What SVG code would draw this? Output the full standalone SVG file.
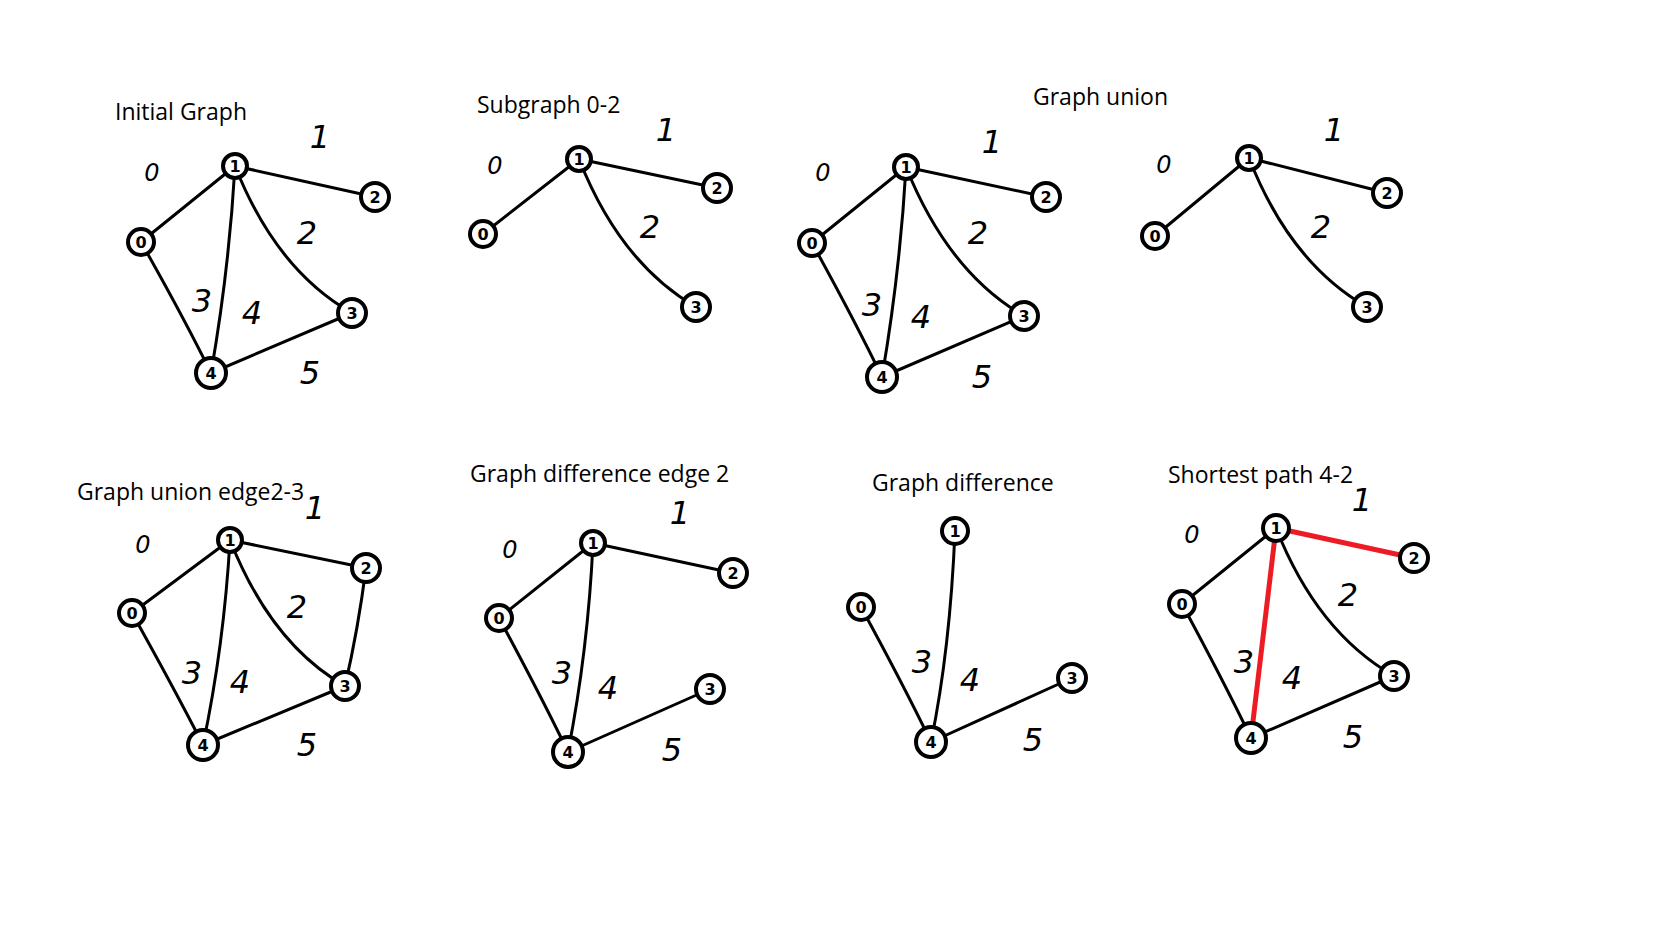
<svg xmlns="http://www.w3.org/2000/svg" width="1666" height="936" viewBox="0 0 1666 936">
<style>
.title{font-family:"Open Sans","Noto Sans",sans-serif;font-size:23px;fill:#000}
.e{fill:none;stroke:#000;stroke-width:3;stroke-linecap:round}
.red{fill:none;stroke:#ED1C24;stroke-width:5;stroke-linecap:round}
.n circle{fill:#fff;stroke:#000;stroke-width:4}
.n text{font-family:"DejaVu Sans",sans-serif;font-size:16px;font-weight:bold;text-anchor:middle;fill:#000}
.lbl{font-family:"DejaVu Sans",sans-serif;font-style:italic;font-size:32px;text-anchor:middle;fill:#000}
.lbl0{font-size:24px}
</style>
<rect width="1666" height="936" fill="#fff"/>

<g id="titles">
<text class="title" x="115" y="120">Initial Graph</text>
<text class="title" x="477" y="113">Subgraph 0-2</text>
<text class="title" x="1033" y="105">Graph union</text>
<text class="title" x="77" y="500">Graph union edge2-3</text>
<text class="title" x="470" y="482">Graph difference edge 2</text>
<text class="title" x="872" y="491">Graph difference</text>
<text class="title" x="1168" y="483">Shortest path 4-2</text>
</g>

<g id="connectors">
<!-- Initial graph -->
<path class="e" d="M235 166 L375 197"/>
<path class="e" d="M235 166 L141 242"/>
<path class="e" d="M235 166 Q229 270 211 373"/>
<path class="e" d="M235 166 Q276 270 352 313"/>
<path class="e" d="M141 242 Q184 318 211 373"/>
<path class="e" d="M211 373 L352 313"/>
<!-- Subgraph 0-2 -->
<path class="e" d="M579 159 L717 188"/>
<path class="e" d="M579 159 L483 234"/>
<path class="e" d="M579 159 Q620 263 696 307"/>
<!-- Graph union left -->
<path class="e" d="M906 167 L1046 197"/>
<path class="e" d="M906 167 L812 243"/>
<path class="e" d="M906 167 Q900 272 882 377"/>
<path class="e" d="M906 167 Q948 272 1024 316"/>
<path class="e" d="M812 243 Q855 321 882 377"/>
<path class="e" d="M882 377 L1024 316"/>
<!-- Graph union right -->
<path class="e" d="M1249 158 L1387 193"/>
<path class="e" d="M1249 158 L1155 236"/>
<path class="e" d="M1249 158 Q1290 263 1367 307"/>
<!-- Graph union edge2-3 -->
<path class="e" d="M230 540 L366 568"/>
<path class="e" d="M230 540 L132 613"/>
<path class="e" d="M230 540 Q224 645 203 745"/>
<path class="e" d="M230 540 Q271 644 345 686"/>
<path class="e" d="M132 613 Q175 690 203 745"/>
<path class="e" d="M203 745 L345 686"/>
<path class="e" d="M366 568 Q358 630 345 686"/>
<!-- Graph difference edge 2 -->
<path class="e" d="M593 543 L733 573"/>
<path class="e" d="M593 543 L499 618"/>
<path class="e" d="M593 543 Q588 650 568 752"/>
<path class="e" d="M499 618 Q541 696 568 752"/>
<path class="e" d="M568 752 L710 689"/>
<!-- Graph difference -->
<path class="e" d="M955 531 Q950 650 931 742"/>
<path class="e" d="M861 607 Q904 686 931 742"/>
<path class="e" d="M931 742 L1072 678"/>
<!-- Shortest path -->
<path class="e" d="M1276 528 L1182 604"/>
<path class="e" d="M1276 528 Q1317 632 1394 676"/>
<path class="e" d="M1182 604 Q1224 682 1251 738"/>
<path class="e" d="M1251 738 L1394 676"/>
<path class="red" d="M1276 528 L1414 558"/>
<path class="red" d="M1276 528 L1251 738"/>
</g>

<g id="edge-labels">
<text class="lbl lbl0" x="152" y="181">0</text><text class="lbl" x="320" y="148">1</text><text class="lbl" x="307" y="244">2</text><text class="lbl" x="202" y="312">3</text><text class="lbl" x="252" y="324">4</text><text class="lbl" x="310" y="384">5</text>
<text class="lbl lbl0" x="495" y="174">0</text><text class="lbl" x="666" y="141">1</text><text class="lbl" x="650" y="238">2</text>
<text class="lbl lbl0" x="823" y="181">0</text><text class="lbl" x="992" y="153">1</text><text class="lbl" x="978" y="244">2</text><text class="lbl" x="872" y="316">3</text><text class="lbl" x="921" y="328">4</text><text class="lbl" x="982" y="388">5</text>
<text class="lbl lbl0" x="1164" y="173">0</text><text class="lbl" x="1334" y="141">1</text><text class="lbl" x="1321" y="238">2</text>
<text class="lbl lbl0" x="143" y="553">0</text><text class="lbl" x="315" y="519">1</text><text class="lbl" x="297" y="618">2</text><text class="lbl" x="192" y="684">3</text><text class="lbl" x="240" y="693">4</text><text class="lbl" x="307" y="756">5</text>
<text class="lbl lbl0" x="510" y="558">0</text><text class="lbl" x="680" y="524">1</text><text class="lbl" x="562" y="684">3</text><text class="lbl" x="608" y="699">4</text><text class="lbl" x="672" y="761">5</text>
<text class="lbl" x="922" y="673">3</text><text class="lbl" x="970" y="691">4</text><text class="lbl" x="1033" y="751">5</text>
<text class="lbl lbl0" x="1192" y="543">0</text><text class="lbl" x="1362" y="511">1</text><text class="lbl" x="1348" y="606">2</text><text class="lbl" x="1244" y="673">3</text><text class="lbl" x="1292" y="689">4</text><text class="lbl" x="1353" y="748">5</text>
</g>

<g id="g1-nodes">
<g id="g1-n1" class="n"><circle cx="235" cy="166" r="12"/><text x="235" y="172">1</text></g>
<g id="g1-n2" class="n"><circle cx="375" cy="197" r="14"/><text x="375" y="203">2</text></g>
<g id="g1-n0" class="n"><circle cx="141" cy="242" r="13"/><text x="141" y="248">0</text></g>
<g id="g1-n3" class="n"><circle cx="352" cy="313" r="14"/><text x="352" y="319">3</text></g>
<g id="g1-n4" class="n"><circle cx="211" cy="373" r="15"/><text x="211" y="379">4</text></g>
</g>
<g id="g2-nodes">
<g id="g2-n1" class="n"><circle cx="579" cy="159" r="12"/><text x="579" y="165">1</text></g>
<g id="g2-n2" class="n"><circle cx="717" cy="188" r="14"/><text x="717" y="194">2</text></g>
<g id="g2-n0" class="n"><circle cx="483" cy="234" r="13"/><text x="483" y="240">0</text></g>
<g id="g2-n3" class="n"><circle cx="696" cy="307" r="14"/><text x="696" y="313">3</text></g>
</g>
<g id="g3-nodes">
<g id="g3-n1" class="n"><circle cx="906" cy="167" r="12"/><text x="906" y="173">1</text></g>
<g id="g3-n2" class="n"><circle cx="1046" cy="197" r="14"/><text x="1046" y="203">2</text></g>
<g id="g3-n0" class="n"><circle cx="812" cy="243" r="13"/><text x="812" y="249">0</text></g>
<g id="g3-n3" class="n"><circle cx="1024" cy="316" r="14"/><text x="1024" y="322">3</text></g>
<g id="g3-n4" class="n"><circle cx="882" cy="377" r="15"/><text x="882" y="383">4</text></g>
</g>
<g id="g4-nodes">
<g id="g4-n1" class="n"><circle cx="1249" cy="158" r="12"/><text x="1249" y="164">1</text></g>
<g id="g4-n2" class="n"><circle cx="1387" cy="193" r="14"/><text x="1387" y="199">2</text></g>
<g id="g4-n0" class="n"><circle cx="1155" cy="236" r="13"/><text x="1155" y="242">0</text></g>
<g id="g4-n3" class="n"><circle cx="1367" cy="307" r="14"/><text x="1367" y="313">3</text></g>
</g>
<g id="g5-nodes">
<g id="g5-n1" class="n"><circle cx="230" cy="540" r="12"/><text x="230" y="546">1</text></g>
<g id="g5-n2" class="n"><circle cx="366" cy="568" r="14"/><text x="366" y="574">2</text></g>
<g id="g5-n0" class="n"><circle cx="132" cy="613" r="13"/><text x="132" y="619">0</text></g>
<g id="g5-n3" class="n"><circle cx="345" cy="686" r="14"/><text x="345" y="692">3</text></g>
<g id="g5-n4" class="n"><circle cx="203" cy="745" r="15"/><text x="203" y="751">4</text></g>
</g>
<g id="g6-nodes">
<g id="g6-n1" class="n"><circle cx="593" cy="543" r="12"/><text x="593" y="549">1</text></g>
<g id="g6-n2" class="n"><circle cx="733" cy="573" r="14"/><text x="733" y="579">2</text></g>
<g id="g6-n0" class="n"><circle cx="499" cy="618" r="13"/><text x="499" y="624">0</text></g>
<g id="g6-n3" class="n"><circle cx="710" cy="689" r="14"/><text x="710" y="695">3</text></g>
<g id="g6-n4" class="n"><circle cx="568" cy="752" r="15"/><text x="568" y="758">4</text></g>
</g>
<g id="g7-nodes">
<g id="g7-n1" class="n"><circle cx="955" cy="531" r="13"/><text x="955" y="537">1</text></g>
<g id="g7-n0" class="n"><circle cx="861" cy="607" r="13"/><text x="861" y="613">0</text></g>
<g id="g7-n3" class="n"><circle cx="1072" cy="678" r="14"/><text x="1072" y="684">3</text></g>
<g id="g7-n4" class="n"><circle cx="931" cy="742" r="15"/><text x="931" y="748">4</text></g>
</g>
<g id="g8-nodes">
<g id="g8-n1" class="n"><circle cx="1276" cy="528" r="13"/><text x="1276" y="534">1</text></g>
<g id="g8-n2" class="n"><circle cx="1414" cy="558" r="14"/><text x="1414" y="564">2</text></g>
<g id="g8-n0" class="n"><circle cx="1182" cy="604" r="13"/><text x="1182" y="610">0</text></g>
<g id="g8-n3" class="n"><circle cx="1394" cy="676" r="14"/><text x="1394" y="682">3</text></g>
<g id="g8-n4" class="n"><circle cx="1251" cy="738" r="15"/><text x="1251" y="744">4</text></g>
</g>
</svg>
